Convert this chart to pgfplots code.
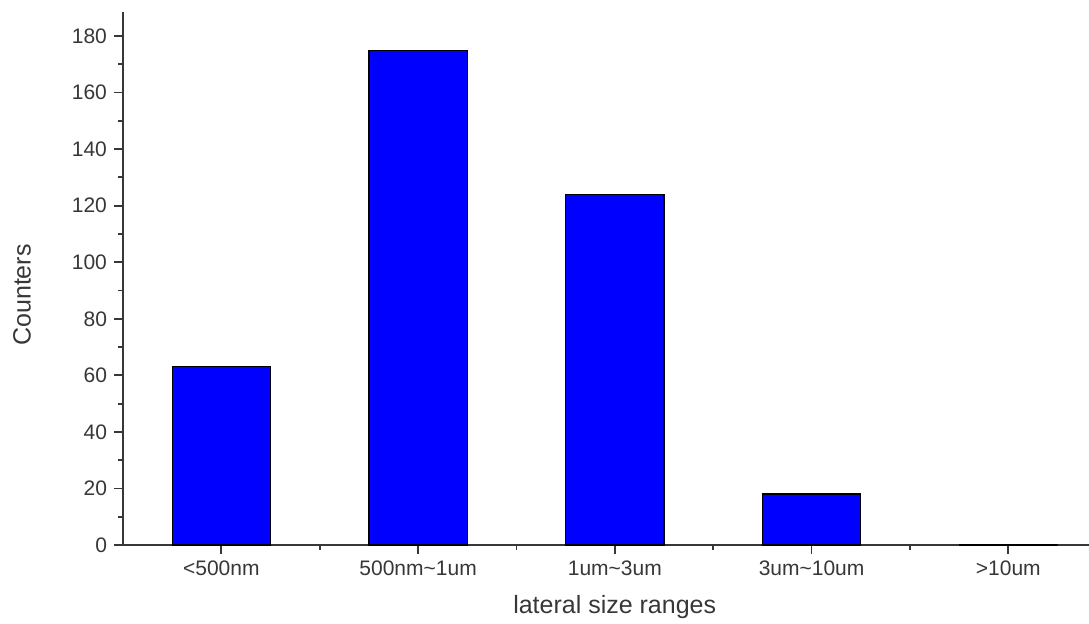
\documentclass[border=0pt]{standalone}
\usepackage{pgfplots}
\pgfplotsset{compat=1.18}
\usepackage{fontspec}
\setmainfont{Liberation Sans}
\definecolor{axgray}{RGB}{55,55,55}
\definecolor{barblue}{RGB}{0,0,255}
\begin{document}
\begin{tikzpicture}
\begin{axis}[
    scale only axis,
    width=483pt, height=266.5pt,
    xmin=-0.5, xmax=4.41,
    ymin=0, ymax=188.5,
    axis x line*=bottom, axis y line*=left,
    axis line style={axgray, line width=0.9pt, -},
    tick style={axgray, line width=0.9pt},
    tick align=outside,
    major tick length=4.5pt, minor tick length=2.5pt,
    xtick={0,1,2,3,4},
    xticklabels={<500nm, 500nm\textasciitilde1um, 1um\textasciitilde3um, 3um\textasciitilde10um, >10um},
    minor xtick={0.5,1.5,2.5,3.5},
    ytick={0,20,...,180},
    minor y tick num=1,
    tick label style={font=\fontsize{10.5pt}{12pt}\selectfont, text=axgray},
    /pgf/number format/assume math mode=true,
    xlabel={lateral size ranges},
    ylabel={Counters},
    label style={font=\fontsize{12.5pt}{14pt}\selectfont, text=axgray},
    xlabel style={at={(axis description cs:0.509,-0.116)}, anchor=center},
    ylabel style={at={(axis description cs:-0.1046,0.469)}, anchor=center},
    clip=false,
]
\addplot[ybar, bar width=0.5, fill=barblue, draw=black, line width=0.6pt]
    coordinates {(0,63) (1,175) (2,124) (3,18) (4,0)};
\coordinate (o) at (rel axis cs:0,0);
\end{axis}
\pgfresetboundingbox
\path (o) ++(-61.5pt,-39.5pt) rectangle ++(544.5pt,312pt);
\end{tikzpicture}
\end{document}
